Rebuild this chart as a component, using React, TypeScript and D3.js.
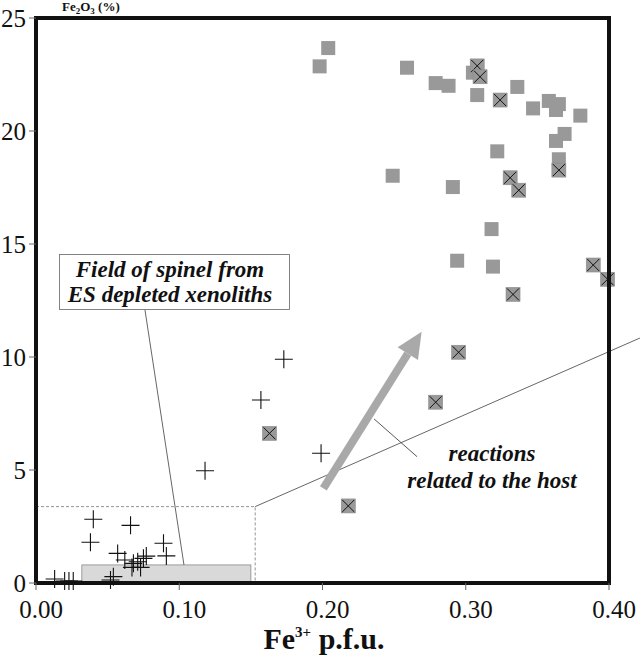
import React, { useEffect, useRef } from "react";
import * as d3 from "d3";

// Fe3+ p.f.u. vs oxide (%) of spinels
const plainSquares: [number, number][] = [
  [0.204, 23.67], [0.198, 22.86], [0.259, 22.8], [0.279, 22.12], [0.288, 22.0],
  [0.305, 22.58], [0.308, 21.59], [0.336, 21.95], [0.347, 21.0], [0.358, 21.33],
  [0.365, 21.19], [0.363, 20.93], [0.38, 20.68], [0.369, 19.87], [0.363, 19.56],
  [0.322, 19.1], [0.365, 18.75], [0.249, 18.02], [0.291, 17.52], [0.318, 15.66],
  [0.294, 14.26], [0.319, 14.0],
];

const crossedSquares: [number, number][] = [
  [0.308, 22.88], [0.31, 22.4], [0.324, 21.37], [0.365, 18.27], [0.331, 17.93],
  [0.337, 17.38], [0.333, 12.77], [0.389, 14.07], [0.399, 13.44], [0.295, 10.21],
  [0.279, 8.0], [0.163, 6.62], [0.218, 3.41],
];

const pluses: [number, number][] = [
  [0.04, 2.82], [0.066, 2.55], [0.038, 1.8], [0.089, 1.76], [0.091, 1.2],
  [0.057, 1.31], [0.062, 1.02], [0.068, 0.87], [0.071, 0.94], [0.075, 1.09],
  [0.077, 1.19], [0.073, 0.69], [0.067, 0.69], [0.054, 0.28], [0.052, 0.13],
  [0.013, 0.18], [0.02, 0.09], [0.023, 0.09], [0.026, 0.09],
  [0.118, 4.97], [0.157, 8.1], [0.173, 9.9], [0.199, 5.74],
];

const xTicks = [0, 0.1, 0.2, 0.3, 0.4];
const yTicks = [0, 5, 10, 15, 20, 25];

// annotation geometry, in data units
const depletedField = { x0: 0.032, x1: 0.15, y0: 0, y1: 0.8 };
const dashedField = { x1: 0.153, y1: 3.38 };
const hostLine: [number, number][] = [[0.153, 3.38], [0.4216, 10.84]];
const arrow: [number, number][] = [[0.2006, 4.19], [0.2692, 11.12]];
const arrowLeader: [number, number][] = [[0.236, 7.26], [0.266, 5.59]];
const fieldLeader: [number, number][] = [[0.076, 12.11], [0.1033, 0.8]];

const App = () => {
  const svgRef = useRef<SVGSVGElement>(null);

  useEffect(() => {
    const svg = d3.select(svgRef.current);
    svg.selectAll("*").remove();

    const x = d3.scaleLinear().domain([0, 0.4]).range([36, 609]);
    const y = d3.scaleLinear().domain([0, 25]).range([583, 18]);
    const serif = "Liberation Serif, Times New Roman, serif";

    // y title at the very top (cut off in the original scan)
    const yt = svg.append("text").attr("x", 62).attr("y", 11)
      .attr("font-family", serif).attr("font-size", 13).attr("font-weight", "bold")
      .attr("fill", "#111");
    yt.append("tspan").text("Fe");
    yt.append("tspan").attr("dy", 3).attr("font-size", 9).text("2");
    yt.append("tspan").attr("dy", -3).text("O");
    yt.append("tspan").attr("dy", 3).attr("font-size", 9).text("3");
    yt.append("tspan").attr("dy", -3).text(" (%)");

    // depleted xenolith field
    svg.append("rect")
      .attr("x", x(depletedField.x0)).attr("y", y(depletedField.y1))
      .attr("width", x(depletedField.x1) - x(depletedField.x0))
      .attr("height", y(depletedField.y0) - y(depletedField.y1))
      .attr("fill", "#d9d9d9").attr("stroke", "#8a8a8a").attr("stroke-width", 0.8);

    // dashed field
    svg.append("path")
      .attr("d", `M${x(0)},${y(dashedField.y1)}H${x(dashedField.x1)}V${y(0)}`)
      .attr("fill", "none").attr("stroke", "#777").attr("stroke-width", 0.8)
      .attr("stroke-dasharray", "3,2");

    const line = d3.line<[number, number]>().x((d) => x(d[0])).y((d) => y(d[1]));
    svg.append("path").attr("d", line(hostLine)!)
      .attr("fill", "none").attr("stroke", "#555").attr("stroke-width", 0.9);
    svg.append("path").attr("d", line(fieldLeader)!)
      .attr("fill", "none").attr("stroke", "#555").attr("stroke-width", 0.9);

    // thick arrow
    const [a0, a1] = arrow.map((d) => [x(d[0]), y(d[1])]);
    const ang = Math.atan2(a1[1] - a0[1], a1[0] - a0[0]);
    const headLen = 26;
    const hx = a1[0] - headLen * Math.cos(ang);
    const hy = a1[1] - headLen * Math.sin(ang);
    svg.append("line")
      .attr("x1", a0[0]).attr("y1", a0[1]).attr("x2", hx).attr("y2", hy)
      .attr("stroke", "#a9a9a9").attr("stroke-width", 8);
    const px = -Math.sin(ang), py = Math.cos(ang);
    svg.append("path")
      .attr("d", `M${a1[0]},${a1[1]}L${hx + px * 12},${hy + py * 12}L${hx - px * 12},${hy - py * 12}Z`)
      .attr("fill", "#a9a9a9");
    svg.append("path").attr("d", line(arrowLeader)!)
      .attr("fill", "none").attr("stroke", "#444").attr("stroke-width", 0.9);

    // plain squares
    const s = 14;
    svg.append("g").selectAll("rect").data(plainSquares).join("rect")
      .attr("x", (d) => x(d[0]) - s / 2).attr("y", (d) => y(d[1]) - s / 2)
      .attr("width", s).attr("height", s).attr("fill", "#999");

    // crossed squares
    const cg = svg.append("g").selectAll("g").data(crossedSquares).join("g")
      .attr("transform", (d) => `translate(${x(d[0])},${y(d[1])})`);
    cg.append("rect").attr("x", -s / 2).attr("y", -s / 2).attr("width", s).attr("height", s)
      .attr("fill", "#999").attr("stroke", "#8a8a8a").attr("stroke-width", 0.6);
    cg.append("path").attr("d", "M-6,-6L6,6M6,-6L-6,6")
      .attr("stroke", "#111").attr("stroke-width", 1);

    // pluses
    svg.append("g").selectAll("path").data(pluses).join("path")
      .attr("d", (d) => {
        const cx = x(d[0]), cy = y(d[1]);
        return `M${cx - 9},${cy}H${cx + 9}M${cx},${cy - 9}V${cy + 9}`;
      })
      .attr("stroke", "#111").attr("stroke-width", 1.1);

    // frame
    svg.append("rect")
      .attr("x", x(0)).attr("y", y(25)).attr("width", x(0.4) - x(0)).attr("height", y(0) - y(25))
      .attr("fill", "none").attr("stroke", "#111").attr("stroke-width", 4);

    // ticks
    svg.append("g").selectAll("line").data(yTicks).join("line")
      .attr("x1", x(0) - 7).attr("x2", x(0)).attr("y1", (d) => y(d)).attr("y2", (d) => y(d))
      .attr("stroke", "#666").attr("stroke-width", 1);
    svg.append("g").selectAll("line").data(xTicks).join("line")
      .attr("y1", y(0)).attr("y2", y(0) + 7).attr("x1", (d) => x(d)).attr("x2", (d) => x(d))
      .attr("stroke", "#666").attr("stroke-width", 1);

    svg.append("g").selectAll("text").data(yTicks).join("text")
      .attr("x", x(0) - 10).attr("y", (d) => y(d)).attr("dy", "0.34em")
      .attr("text-anchor", "end").attr("font-family", serif).attr("font-size", 25)
      .attr("fill", "#111").text((d) => d);
    svg.append("g").selectAll("text").data(xTicks).join("text")
      .attr("x", (d) => x(d) + 5).attr("y", 618)
      .attr("text-anchor", "middle").attr("font-family", serif).attr("font-size", 25)
      .attr("fill", "#111").text((d) => d3.format(".2f")(d));

    // x title
    const xt = svg.append("text").attr("x", 324).attr("y", 649).attr("text-anchor", "middle")
      .attr("font-family", serif).attr("font-size", 30).attr("font-weight", "bold").attr("fill", "#111");
    xt.append("tspan").text("Fe");
    xt.append("tspan").attr("dy", -12).attr("font-size", 15).text("3+");
    xt.append("tspan").attr("dy", 12).text(" p.f.u.");

    // field label box
    svg.append("rect").attr("x", 59.5).attr("y", 254.5).attr("width", 230).attr("height", 55)
      .attr("fill", "#fff").attr("stroke", "#777").attr("stroke-width", 0.9);
    const ft = svg.append("text").attr("text-anchor", "middle")
      .attr("font-family", serif).attr("font-size", 23).attr("font-weight", "bold")
      .attr("font-style", "italic").attr("fill", "#111");
    ft.append("tspan").attr("x", 170).attr("y", 277).text("Field of spinel from");
    ft.append("tspan").attr("x", 170).attr("y", 302).text("ES depleted xenoliths");

    const rt = svg.append("text").attr("text-anchor", "middle")
      .attr("font-family", serif).attr("font-size", 23).attr("font-weight", "bold")
      .attr("font-style", "italic").attr("fill", "#111");
    rt.append("tspan").attr("x", 492).attr("y", 461).text("reactions");
    rt.append("tspan").attr("x", 492).attr("y", 488).text("related to the host");
  }, []);

  return (
    <svg
      ref={svgRef}
      width={640}
      height={666}
      style={{ position: "absolute", left: 0, top: 0, background: "#fff" }}
    ></svg>
  );
};

export default App;
